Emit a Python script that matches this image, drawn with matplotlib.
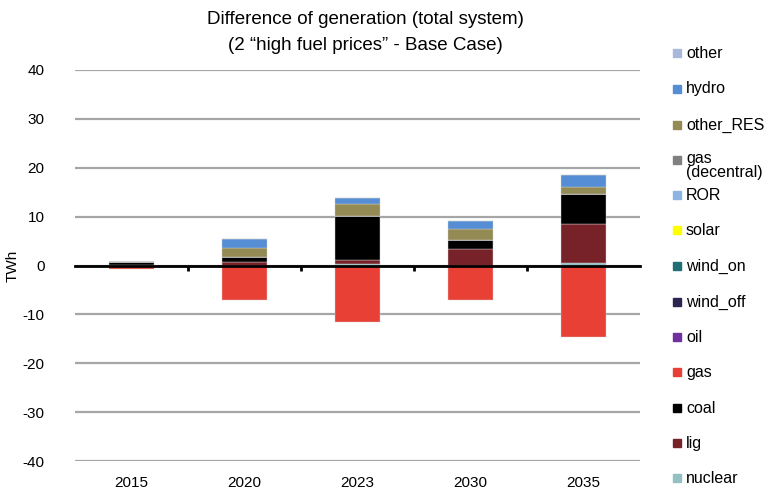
import matplotlib.pyplot as plt
from matplotlib.patches import Rectangle
import numpy as np

plt.rcParams['font.family'] = ['Liberation Sans', 'DejaVu Sans']
plt.rcParams['axes.unicode_minus'] = False

years = ["2015", "2020", "2023", "2030", "2035"]

# stacking order, bottom to top
techs = ["nuclear", "lig", "coal", "gas", "oil", "wind_off", "wind_on", "solar",
         "ROR", "gas\n(decentral)", "other_RES", "hydro", "other"]
colors = ["#93C0C3", "#772229", "#000000", "#E84034", "#7030A0", "#2E2452", "#1F6F75",
          "#FFFF00", "#8DB4E2", "#808080", "#948A54", "#558ED5", "#A9B8DA"]

nuclear = [0.0, 0.0, 0.3, 0.0, 0.5]
lig = [0.05, 0.7, 0.9, 3.4, 7.9]
coal = [0.75, 1.1, 8.9, 1.9, 6.2]
gas = [-0.7, -7.0, -11.5, -7.0, -14.7]
oil = [0, 0, 0, 0, 0]
wind_off = [0, 0, 0, 0, 0]
wind_on = [0, 0, 0, 0, 0]
solar = [0, 0, 0, 0, 0]
ror = [0, 0, 0, 0, 0]
gas_dec = [0, 0, 0, 0, 0]
other_res = [0.0, 1.8, 2.5, 2.1, 1.5]
hydro = [0.0, 1.9, 1.2, 1.8, 2.4]
other = [0, 0, 0, 0, 0]

values = [nuclear, lig, coal, gas, oil, wind_off, wind_on, solar,
          ror, gas_dec, other_res, hydro, other]

fig = plt.figure(figsize=(7.75, 4.94), dpi=100)
ax = fig.add_axes([75 / 775, 33 / 494, 565 / 775, 391 / 494])

x = np.arange(len(years))
pos = np.zeros(len(years))
neg = np.zeros(len(years))
for name, col, vals in zip(techs, colors, values):
    v = np.array(vals, dtype=float)
    bottom = np.where(v >= 0, pos, neg)
    ax.bar(x, v, 0.4, bottom=bottom, color=col, edgecolor="#d0d0d0", linewidth=0.3, zorder=3)
    pos = pos + np.where(v > 0, v, 0)
    neg = neg + np.where(v < 0, v, 0)

ax.set_xlim(-0.5, len(years) - 0.5)
ax.set_ylim(-40, 40)
ax.set_yticks(range(-40, 41, 10))
ax.yaxis.grid(True, color="#a6a6a6", linewidth=1.6, zorder=0)
ax.tick_params(axis="y", length=0, labelsize=11, pad=22)
for s in ["left", "right", "top"]:
    ax.spines[s].set_visible(False)
ax.spines["bottom"].set_position(("data", 0))
ax.spines["bottom"].set_linewidth(2)
ax.spines["bottom"].set_zorder(4)
ax.set_xticks(x[:-1] + 0.5, minor=True)
ax.set_xticks(x)
ax.tick_params(axis="x", which="major", length=0, labelbottom=False)
ax.tick_params(axis="x", which="minor", length=3.5, width=2, direction="out")
for xi, yr in zip(x, years):
    ax.text(xi, -44.5, yr, ha="center", va="center", fontsize=11)
ax.set_ylabel("TWh", fontsize=11, labelpad=2)

fig.text(365 / 775, 1 - 20 / 494, "Difference of generation (total system)", ha="center", va="center", fontsize=13.5)
fig.text(365 / 775, 1 - 45 / 494, "(2 \u201chigh fuel prices\u201d - Base Case)", ha="center", va="center", fontsize=13.5)

# legend, top to bottom
leg_y = [53, 89, 125, 160, 195, 230, 266, 302, 337, 372, 408, 443, 478]
for name, col, yp in zip(techs[::-1], colors[::-1], leg_y):
    fig.patches.append(Rectangle((673 / 775, 1 - (yp + 4) / 494), 8 / 775, 8 / 494,
                                 transform=fig.transFigure, color=col))
    if "\n" in name:
        fig.text(686 / 775, 1 - (yp - 9) / 494, name, ha="left", va="top", fontsize=11.5, linespacing=0.9)
    else:
        fig.text(686 / 775, 1 - yp / 494, name, ha="left", va="center", fontsize=11.5)

fig.savefig("out.png", dpi=100)
